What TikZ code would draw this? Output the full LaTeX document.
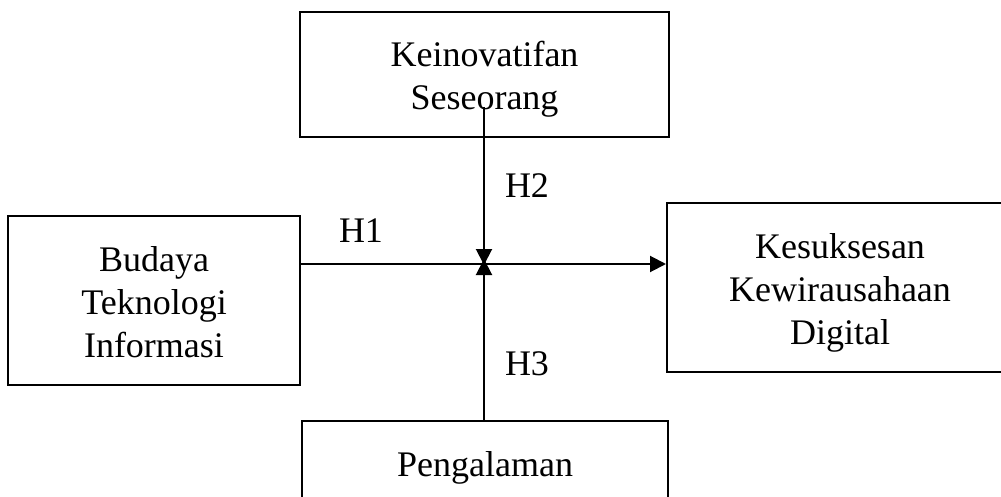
\documentclass[tikz,border=0pt]{standalone}
\usepackage{fontspec}
\setmainfont{Liberation Serif}
\usetikzlibrary{arrows.meta}
\begin{document}
\begin{tikzpicture}[x=1pt,y=-1pt,
  box/.style={draw=black, line width=2pt, inner sep=0pt},
  txt/.style={align=center, inner sep=0pt, font=\fontsize{36}{43}\selectfont},
  lbl/.style={anchor=base, inner sep=0pt, font=\fontsize{36}{43}\selectfont},
  conn/.style={line width=2pt, -{Triangle[length=16pt,width=16pt]}}]
\useasboundingbox (0,0) rectangle (1001,497);
\clip (0,0) rectangle (1001,497);
\node[box, minimum width=369pt, minimum height=125pt] (K) at (484.5,74.5) {};
\node[txt] (Kt) at (484.5,79.5) {Keinovatifan\\Seseorang};
\node[box, minimum width=292pt, minimum height=169pt] (B) at (154,300.5) {};
\node[txt] (Bt) at (154,302.5) {Budaya\\Teknologi\\Informasi};
\node[box, minimum width=346pt, minimum height=169pt] (S) at (840,287.5) {};
\node[txt] (St) at (840,292.5) {Kesuksesan\\Kewirausahaan\\Digital};
\node[box, minimum width=366pt, minimum height=90pt] (P) at (485,466) {};
\node[txt] (Pt) at (485,468) {Pengalaman};
\coordinate (mid) at (484,264);
\coordinate (ktail) at (484,107);
\draw[conn] (B.east |- mid) -- (S.west |- mid);
\draw[conn] (ktail) -- ([yshift=-1pt]mid);
\draw[conn] (P.north -| mid) -- ([yshift=5pt]mid);
\node[lbl] (h1) at (361,243) {H1};
\node[lbl] (h2) at (527,197) {H2};
\node[lbl] (h3) at (527,375) {H3};
\end{tikzpicture}
\end{document}
